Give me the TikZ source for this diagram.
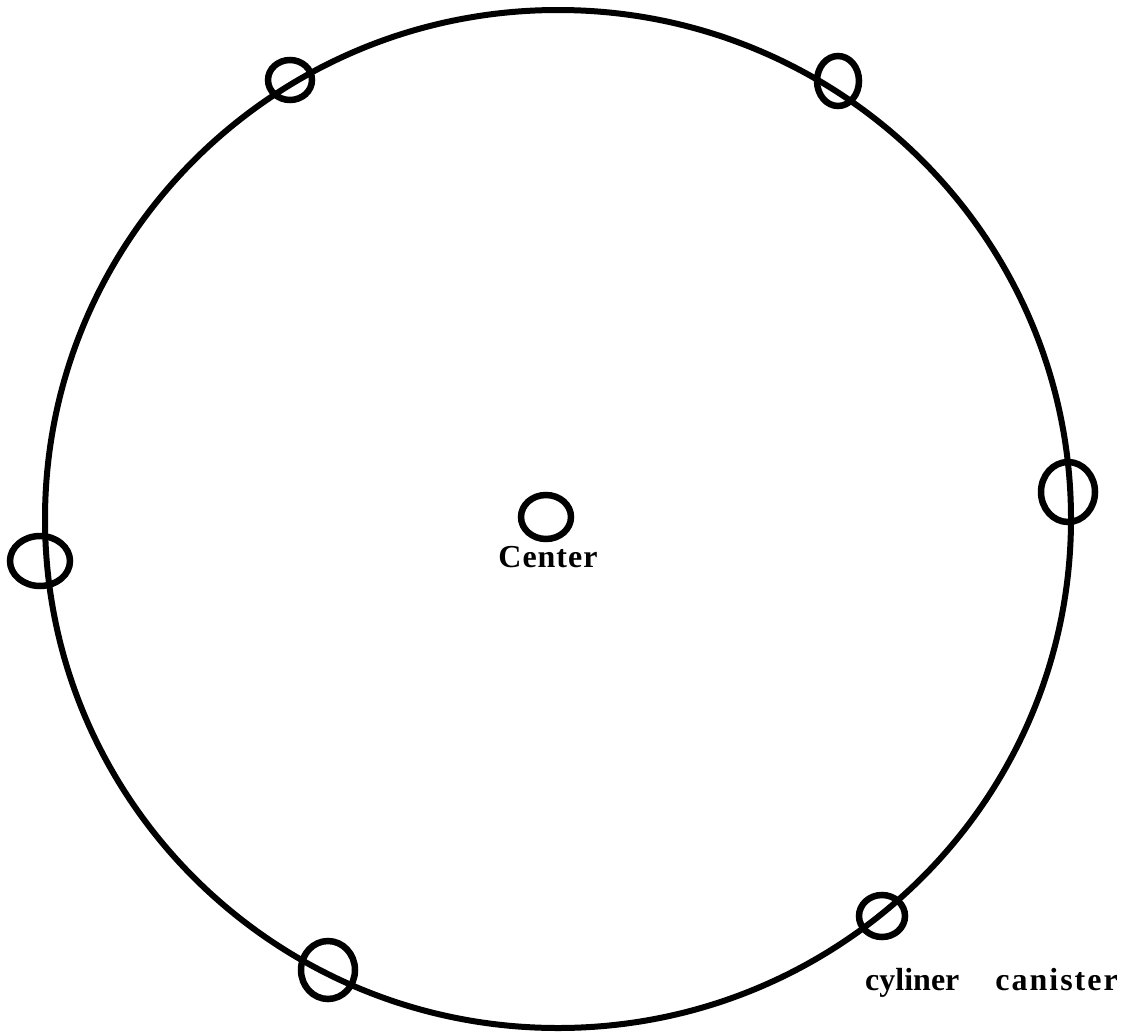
\documentclass[tikz,border=0pt]{standalone}
\usepackage{fontspec}
\setmainfont{Liberation Serif}
\begin{document}
\begin{tikzpicture}[x=1pt,y=-1pt,
  ring/.style={draw=black,line width=6pt},
  can/.style={draw=black,line width=6.5pt},
  lab/.style={font=\fontsize{32}{36}\selectfont\bfseries,inner sep=0pt}]
\useasboundingbox (0,0) rectangle (1130,1036);
\draw[ring] (558,519) ellipse [x radius=513, y radius=509];
\draw[can] (546,517) ellipse [x radius=25, y radius=22];
\draw[can] (290,80) ellipse [x radius=22, y radius=20];
\draw[can] (838,81) ellipse [x radius=21, y radius=25];
\draw[can] (1068,492) ellipse [x radius=27, y radius=30];
\draw[can] (40,561) ellipse [x radius=30, y radius=25];
\draw[can] (328,970) ellipse [x radius=27, y radius=29];
\draw[can] (882,916) ellipse [x radius=23, y radius=21];
\node[lab,anchor=base] (center) at (548,567) {C\kern1pt e\kern1pt n\kern1pt t\kern1pt e\kern1pt r};
\node[lab,anchor=base west] (canister) at (865,990) {cyliner\kern36pt c\kern2pt a\kern2pt n\kern2pt i\kern2pt s\kern2pt t\kern2pt e\kern2pt r};
\end{tikzpicture}
\end{document}
